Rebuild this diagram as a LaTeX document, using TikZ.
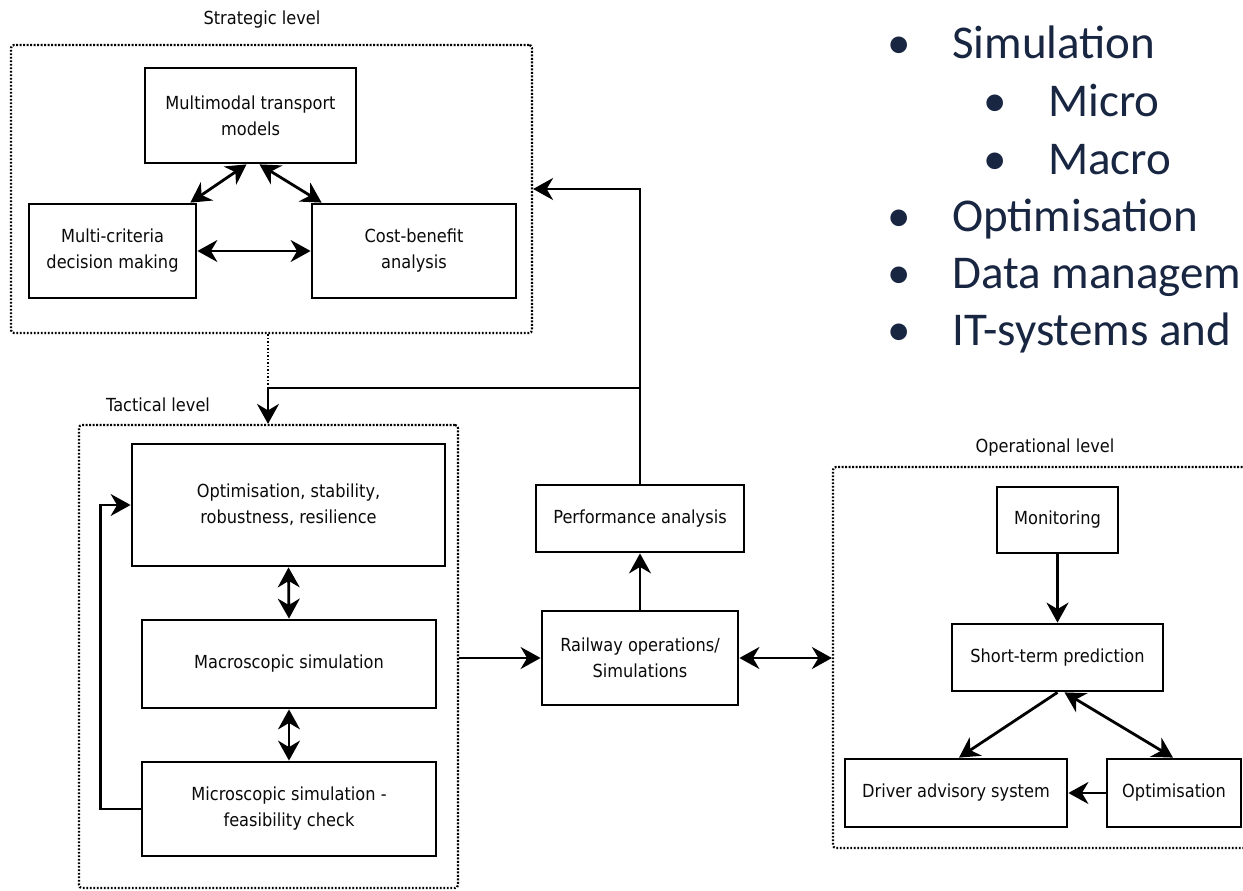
\documentclass[tikz,border=0pt]{standalone}
\usepackage{fontspec}
\setmainfont{DejaVu Sans}[FakeStretch=0.9]
\newfontfamily\bulfont{Carlito}
\usetikzlibrary{arrows.meta}
\definecolor{txt}{RGB}{10,10,10}
\definecolor{navy}{RGB}{24,38,66}
\newcommand{\diagfont}{\fontsize{18}{26}\selectfont}
\newcommand{\bulletfont}{\bulfont\fontsize{47}{56}\selectfont}
\tikzset{
  box/.style={draw, line width=2.8pt, align=center, inner sep=0pt, text=txt, font=\diagfont},
  lvl/.style={draw, line width=2.2pt, dash pattern=on 1.8pt off 1.7pt, rounded corners=3pt, inner sep=0pt},
  lbl/.style={text=txt, font=\diagfont, inner sep=0pt},
  conn/.style={line width=2.8pt},
  tip/.tip={Stealth[length=20pt,width=22pt,inset=6.5pt]},
  arr/.style={conn, -tip},
  darr/.style={conn, tip-tip},
  dotl/.style={line width=2.2pt, dash pattern=on 1.8pt off 1.7pt},
  bul/.style={text=navy, font=\bulletfont, inner sep=0pt},
}
\begin{document}
\begin{tikzpicture}[x=1pt,y=-1pt]
\fill[white] (0,0) rectangle (1243,891);
\clip (0,0) rectangle (1243,891);

% ---------- Strategic level ----------
\node[lbl] (lS) at (262,20) {Strategic level};
\node[lvl, minimum width=521pt, minimum height=288pt] (S) at (271.5,189) {};
\node[box, minimum width=211pt, minimum height=95pt] (mm) at (250.5,115.5) {Multimodal transport\\models};
\node[box, minimum width=167pt, minimum height=94pt] (mc) at (112.5,251) {Multi-criteria\\decision making};
\node[box, minimum width=204pt, minimum height=94pt] (cb) at (414,251) {Cost-benefit\\analysis};
\draw[darr] ([xshift=-7pt]mc.north east) -- ([xshift=-4pt]mm.south);
\draw[darr] ([xshift=9pt]mm.south) -- ([xshift=11pt]cb.north west);
\draw[darr] (mc.east) -- (cb.west);

% ---------- Tactical level ----------
\node[lbl] (lT) at (158,405) {Tactical level};
\node[lvl, minimum width=379pt, minimum height=463pt] (T) at (268.5,656.5) {};
\node[box, minimum width=313pt, minimum height=122pt] (op) at (288.5,505) {Optimisation, stability,\\robustness, resilience};
\node[box, minimum width=294pt, minimum height=88pt] (ma) at (289,664) {Macroscopic simulation};
\node[box, minimum width=294pt, minimum height=94pt] (mi) at (289,809) {Microscopic simulation -\\feasibility check};
\draw[darr] (op.south) -- (ma.north);
\draw[darr] (ma.south) -- (mi.north);
\draw[arr] (mi.west) -- ++(-40,0) |- (op.west);

% ---------- Middle ----------
\node[box, minimum width=208pt, minimum height=67pt] (pa) at (640,518.5) {Performance analysis};
\node[box, minimum width=196pt, minimum height=94pt] (ro) at (640,658) {Railway operations/\\Simulations};
\coordinate (j1) at (640,388);
\coordinate (j2) at (268,388);
\draw[arr] (pa.north) |- (S.east);
\draw[dotl] (S.south -| j2) -- (j2);
\draw[arr] (j1) -- (j2) -- (T.north -| j2);
\draw[arr] (ro.north) -- (pa.south);
\draw[arr] (T.east |- ro.west) -- (ro.west);

% ---------- Operational level ----------
\node[lbl] (lO) at (1045,448) {Operational level};
\node[lvl, minimum width=430pt, minimum height=381pt] (O) at (1048,657.5) {};
\node[box, minimum width=121pt, minimum height=66pt] (mo) at (1057.5,520) {Monitoring};
\node[box, minimum width=211pt, minimum height=67pt] (st) at (1057.5,657.5) {Short-term prediction};
\node[box, minimum width=222pt, minimum height=68pt] (dr) at (956,793) {Driver advisory system};
\node[box, minimum width=134pt, minimum height=68pt] (opt) at (1174,793) {Optimisation};
\draw[darr] (ro.east) -- (O.west |- ro.east);
\draw[arr] (mo.south) -- (st.south |- st.north);
\draw[arr] (st.south) -- ([xshift=3pt]dr.north);
\draw[darr] ([xshift=7pt]st.south) -- ([xshift=-1pt]opt.north);
\draw[arr] (opt.west) -- (dr.east);

% ---------- Bullet list ----------
\node[bul, anchor=base] (d1) at (899,59) {•};
\node[bul, anchor=base west] (b1) at (952,59) {Simulation};
\node[bul, anchor=base] (d2) at (995,116) {•};
\node[bul, anchor=base west] (b2) at (1048,116) {Micro};
\node[bul, anchor=base] (d3) at (995,174) {•};
\node[bul, anchor=base west] (b3) at (1048,174) {Macro};
\node[bul, anchor=base] (d4) at (899,231) {•};
\node[bul, anchor=base west] (b4) at (952,231) {Optimisation};
\node[bul, anchor=base] (d5) at (899,288) {•};
\node[bul, anchor=base west] (b5) at (952,288) {Data managem};
\node[bul, anchor=base] (d6) at (899,345) {•};
\node[bul, anchor=base west] (b6) at (952,345) {IT-systems and};
\end{tikzpicture}
\end{document}
